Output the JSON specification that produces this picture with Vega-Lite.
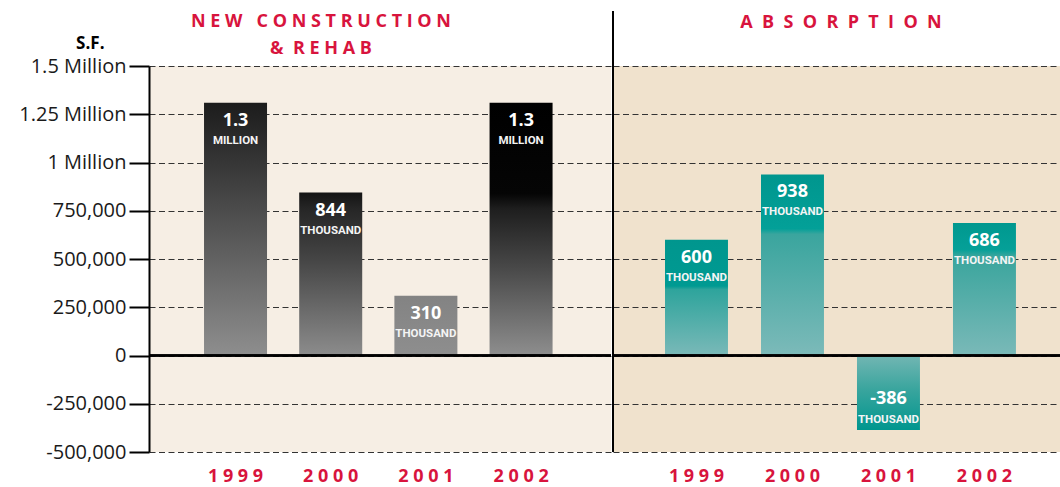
{
  "$schema": "https://vega.github.io/schema/vega-lite/v6.json",
  "autosize": {"type": "pad"},
  "padding": {"left": 18, "top": 10, "right": 0, "bottom": 0},
  "background": "white",
  "spacing": 0,
  "config": {
    "view": {"stroke": null},
    "font": "Open Sans",
    "title": {"font": "Open Sans", "fontSize": 18, "fontWeight": "bold", "color": "#d8143d", "anchor": "middle"},
    "axisX": {"domain": false, "ticks": false, "grid": false, "labelFont": "Open Sans", "labelFontSize": 18, "labelFontWeight": "bold", "labelColor": "#d8143d", "labelPadding": 24, "labelBaseline": "middle", "labelAngle": 0,
      "labelExpr": "substring(datum.label,0,1)+' '+substring(datum.label,1,2)+' '+substring(datum.label,2,3)+' '+substring(datum.label,3,4)"}
  },
  "datasets": {
    "rows": [
      {"panel": "New Construction & Rehab", "year": "1999", "sf": 1310000, "label": "1.3", "unit": "MILLION"},
      {"panel": "New Construction & Rehab", "year": "2000", "sf": 844000, "label": "844", "unit": "THOUSAND"},
      {"panel": "New Construction & Rehab", "year": "2001", "sf": 310000, "label": "310", "unit": "THOUSAND"},
      {"panel": "New Construction & Rehab", "year": "2002", "sf": 1310000, "label": "1.3", "unit": "MILLION"},
      {"panel": "Absorption", "year": "1999", "sf": 600000, "label": "600", "unit": "THOUSAND"},
      {"panel": "Absorption", "year": "2000", "sf": 938000, "label": "938", "unit": "THOUSAND"},
      {"panel": "Absorption", "year": "2001", "sf": -386000, "label": "-386", "unit": "THOUSAND"},
      {"panel": "Absorption", "year": "2002", "sf": 686000, "label": "686", "unit": "THOUSAND"}
    ]
  },
  "hconcat": [
    {
      "width": 462,
      "height": 386,
      "view": {"fill": "#f6eee4", "stroke": null},
      "data": {"name": "rows"},
      "transform": [{"filter": "datum.panel == 'New Construction & Rehab'"}],
      "title": {"text": ["N E W \u00a0 C O N S T R U C T I O N", "&\u00a0 R E H A B"], "dx": -59, "offset": -24, "lineHeight": 27},
      "layer": [
        {
          "transform": [{"filter": "datum.year == '1999'"}],
          "mark": {"type": "bar", "fill": {"gradient": "linear", "x1": 0, "y1": 0, "x2": 0, "y2": 1, "stops": [
            {"offset": 0, "color": "#1c1c1c"}, {"offset": 0.15, "color": "#2c2c2c"}, {"offset": 0.55, "color": "#5a5a5a"}, {"offset": 1, "color": "#8e8e8e"}]}},
          "encoding": {
            "x": {"field": "year", "type": "nominal", "title": null, "scale": {"paddingInner": 0.338, "paddingOuter": 0.596, "align": 0.485}},
            "y": {"field": "sf", "type": "quantitative", "title": "S.F.",
              "scale": {"domain": [-500000, 1500000], "nice": false},
              "axis": {
                "values": [-500000, -250000, 0, 250000, 500000, 750000, 1000000, 1250000, 1500000],
                "labelExpr": "datum.value >= 1000000 ? format(datum.value/1000000, '') + ' Million' : replace(format(datum.value, ','), '\u2212', '-')",
                "labelFont": "Open Sans", "labelFontSize": 20, "labelColor": "#1a1a1a", "labelPadding": 3,
                "domain": true, "domainColor": "#000", "domainWidth": 2,
                "ticks": true, "tickColor": "#000", "tickWidth": 2, "tickSize": 20,
                "grid": true, "gridColor": "#333", "gridDash": [6, 3.5], "gridWidth": 1,
                "titleAngle": 0, "titleX": -45, "titleY": -23, "titleAlign": "right", "titleBaseline": "middle",
                "titleFont": "Open Sans", "titleFontSize": 17, "titleFontWeight": "bold", "titleColor": "#000"
              }}
          }
        },
        {
          "transform": [{"filter": "datum.year == '2000'"}],
          "mark": {"type": "bar", "fill": {"gradient": "linear", "x1": 0, "y1": 0, "x2": 0, "y2": 1, "stops": [
            {"offset": 0, "color": "#141414"}, {"offset": 0.1, "color": "#262626"}, {"offset": 0.4, "color": "#444444"}, {"offset": 1, "color": "#8c8c8c"}]}},
          "encoding": {"x": {"field": "year", "type": "nominal"}, "y": {"field": "sf", "type": "quantitative"}}
        },
        {
          "transform": [{"filter": "datum.year == '2001'"}],
          "mark": {"type": "bar", "fill": {"gradient": "linear", "x1": 0, "y1": 0, "x2": 0, "y2": 1, "stops": [
            {"offset": 0, "color": "#838383"}, {"offset": 1, "color": "#8e8e8e"}]}},
          "encoding": {"x": {"field": "year", "type": "nominal"}, "y": {"field": "sf", "type": "quantitative"}}
        },
        {
          "transform": [{"filter": "datum.year == '2002'"}],
          "mark": {"type": "bar", "fill": {"gradient": "linear", "x1": 0, "y1": 0, "x2": 0, "y2": 1, "stops": [
            {"offset": 0, "color": "#000000"}, {"offset": 0.36, "color": "#050505"}, {"offset": 0.42, "color": "#1e1e1e"}, {"offset": 0.65, "color": "#484848"}, {"offset": 1, "color": "#8e8e8e"}]}},
          "encoding": {"x": {"field": "year", "type": "nominal"}, "y": {"field": "sf", "type": "quantitative"}}
        },
        {
          "mark": {"type": "rule", "color": "#000", "strokeWidth": 2},
          "encoding": {"y": {"datum": 0, "type": "quantitative"}}
        },
        {
          "transform": [{"filter": "datum.sf > 0"}],
          "mark": {"type": "text", "color": "#ffffff", "font": "Open Sans", "fontSize": 18, "fontWeight": "bold", "baseline": "middle", "dy": 18},
          "encoding": {"x": {"field": "year", "type": "nominal"}, "y": {"field": "sf", "type": "quantitative"}, "text": {"field": "label"}}
        },
        {
          "transform": [{"filter": "datum.sf > 0"}],
          "mark": {"type": "text", "color": "#f4f4f4", "font": "Roboto", "fontSize": 11.5, "fontWeight": "bold", "baseline": "middle", "dy": 38},
          "encoding": {"x": {"field": "year", "type": "nominal"}, "y": {"field": "sf", "type": "quantitative"}, "text": {"field": "unit"}}
        }
      ]
    },
    {
      "width": 450,
      "height": 386,
      "view": {"fill": "#f0e2cd", "stroke": null},
      "data": {"name": "rows"},
      "transform": [{"filter": "datum.panel == 'Absorption'"}],
      "title": {"text": "A \u00a0B \u00a0S \u00a0O \u00a0R \u00a0P \u00a0T \u00a0I \u00a0O \u00a0N", "dx": 3, "offset": -22},
      "resolve": {"scale": {"x": "independent"}},
      "layer": [
        {
          "layer": [
            {
              "transform": [{"filter": "datum.year == '1999'"}],
              "mark": {"type": "bar", "fill": {"gradient": "linear", "x1": 0, "y1": 0, "x2": 0, "y2": 1, "stops": [
                {"offset": 0, "color": "#00968e"}, {"offset": 0.4, "color": "#009a92"}, {"offset": 0.43, "color": "#2ea49c"}, {"offset": 1, "color": "#7ab9b8"}]}},
              "encoding": {
                "x": {"field": "year", "type": "nominal", "title": null, "scale": {"paddingInner": 0.344, "paddingOuter": 0.516, "align": 0.525}},
                "y": {"field": "sf", "type": "quantitative", "title": null,
                  "scale": {"domain": [-500000, 1500000], "nice": false},
                  "axis": {
                    "values": [-500000, -250000, 0, 250000, 500000, 750000, 1000000, 1250000, 1500000],
                    "labels": false, "ticks": false, "domain": false,
                    "grid": true, "gridColor": "#333", "gridDash": [6, 3.5], "gridWidth": 1
                  }}
              }
            },
            {
              "transform": [{"filter": "datum.year == '2000'"}],
              "mark": {"type": "bar", "fill": {"gradient": "linear", "x1": 0, "y1": 0, "x2": 0, "y2": 1, "stops": [
                {"offset": 0, "color": "#00968e"}, {"offset": 0.3, "color": "#03a098"}, {"offset": 0.33, "color": "#3aa59e"}, {"offset": 1, "color": "#7cbab9"}]}},
              "encoding": {"x": {"field": "year", "type": "nominal"}, "y": {"field": "sf", "type": "quantitative"}}
            },
            {
              "transform": [{"filter": "datum.year == '2001'"}],
              "mark": {"type": "bar", "fill": {"gradient": "linear", "x1": 0, "y1": 0, "x2": 0, "y2": 1, "stops": [
                {"offset": 0, "color": "#72b6b3"}, {"offset": 0.45, "color": "#3aa59e"}, {"offset": 1, "color": "#00968e"}]}},
              "encoding": {"x": {"field": "year", "type": "nominal"}, "y": {"field": "sf", "type": "quantitative"}}
            },
            {
              "transform": [{"filter": "datum.year == '2002'"}],
              "mark": {"type": "bar", "fill": {"gradient": "linear", "x1": 0, "y1": 0, "x2": 0, "y2": 1, "stops": [
                {"offset": 0, "color": "#00988f"}, {"offset": 0.2, "color": "#05a098"}, {"offset": 0.25, "color": "#3aa59d"}, {"offset": 1, "color": "#7ab9b8"}]}},
              "encoding": {"x": {"field": "year", "type": "nominal"}, "y": {"field": "sf", "type": "quantitative"}}
            },
            {
              "mark": {"type": "rule", "color": "#000", "strokeWidth": 2},
              "encoding": {"y": {"datum": 0, "type": "quantitative"}}
            },
            {
              "transform": [{"filter": "datum.sf > 0"}],
              "mark": {"type": "text", "color": "#ffffff", "font": "Open Sans", "fontSize": 18, "fontWeight": "bold", "baseline": "middle", "dy": 18},
              "encoding": {"x": {"field": "year", "type": "nominal"}, "y": {"field": "sf", "type": "quantitative"}, "text": {"field": "label"}}
            },
            {
              "transform": [{"filter": "datum.sf > 0"}],
              "mark": {"type": "text", "color": "#f4f4f4", "font": "Roboto", "fontSize": 11.5, "fontWeight": "bold", "baseline": "middle", "dy": 38},
              "encoding": {"x": {"field": "year", "type": "nominal"}, "y": {"field": "sf", "type": "quantitative"}, "text": {"field": "unit"}}
            },
            {
              "transform": [{"filter": "datum.sf < 0"}],
              "mark": {"type": "text", "color": "#ffffff", "font": "Open Sans", "fontSize": 18, "fontWeight": "bold", "baseline": "middle", "dy": -31},
              "encoding": {"x": {"field": "year", "type": "nominal"}, "y": {"field": "sf", "type": "quantitative"}, "text": {"field": "label"}}
            },
            {
              "transform": [{"filter": "datum.sf < 0"}],
              "mark": {"type": "text", "color": "#f4f4f4", "font": "Roboto", "fontSize": 11.5, "fontWeight": "bold", "baseline": "middle", "dy": -10},
              "encoding": {"x": {"field": "year", "type": "nominal"}, "y": {"field": "sf", "type": "quantitative"}, "text": {"field": "unit"}}
            }
          ]
        },
        {
          "mark": {"type": "rule", "color": "#000", "strokeWidth": 1.5},
          "encoding": {
            "x": {"datum": 0, "type": "quantitative", "scale": {"domain": [0, 1]}, "axis": null},
            "y": {"datum": 1785000, "type": "quantitative"},
            "y2": {"datum": -500000}
          }
        }
      ]
    }
  ]
}
